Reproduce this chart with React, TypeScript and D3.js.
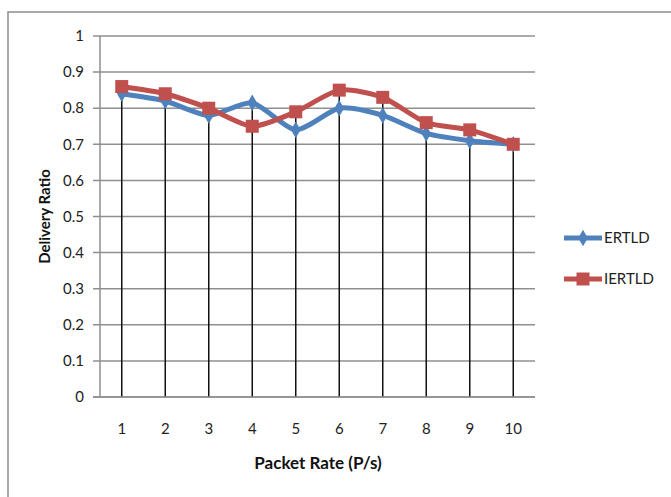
import { useEffect, useRef } from "react";
import * as d3 from "d3";

const categories = ["1", "2", "3", "4", "5", "6", "7", "8", "9", "10"];
const ertld = [0.84, 0.82, 0.78, 0.815, 0.74, 0.8, 0.78, 0.73, 0.71, 0.7];
const iertld = [0.86, 0.84, 0.8, 0.75, 0.79, 0.85, 0.83, 0.76, 0.74, 0.7];
const yTicks = [0, 0.1, 0.2, 0.3, 0.4, 0.5, 0.6, 0.7, 0.8, 0.9, 1];
const seriesNames = ["ERTLD", "IERTLD"];

const W = 671;
const H = 497;
const font = "Lato, 'Open Sans', sans-serif";

export default function App() {
  const svgRef = useRef<SVGSVGElement>(null);

  useEffect(() => {
    if (!svgRef.current) return;
    const svg = d3.select(svgRef.current);
    svg.selectAll("*").remove();

    const x = d3.scaleBand<string>().domain(categories).range([100, 535]);
    const y = d3.scaleLinear().domain([0, 1]).range([397, 36]);
    const cx = (c: string) => (x(c) ?? 0) + x.bandwidth() / 2;

    // outer frame
    svg.append("rect")
      .attr("x", 8).attr("y", 12)
      .attr("width", W + 10).attr("height", H + 10)
      .attr("fill", "white")
      .attr("stroke", "#8c8c8c").attr("stroke-width", 1.5);

    // gridlines + y labels
    const gy = svg.append("g");
    gy.selectAll("line")
      .data(yTicks)
      .join("line")
      .attr("x1", 93).attr("x2", 535)
      .attr("y1", (d) => y(d)).attr("y2", (d) => y(d))
      .attr("stroke", "#8f8f8f").attr("stroke-width", 1.5);
    gy.selectAll("text")
      .data(yTicks)
      .join("text")
      .attr("x", 84).attr("y", (d) => y(d))
      .attr("dy", "0.35em")
      .attr("text-anchor", "end")
      .attr("font-family", font).attr("font-size", 15)
      .attr("fill", "#222")
      .text((d) => (d === 0 || d === 1 ? d3.format("d")(d) : d3.format(".1f")(d)));

    // y axis line
    svg.append("line")
      .attr("x1", 100).attr("x2", 100)
      .attr("y1", y(1)).attr("y2", y(0))
      .attr("stroke", "#8f8f8f").attr("stroke-width", 1.5);

    // drop lines
    svg.append("g").selectAll("line")
      .data(categories)
      .join("line")
      .attr("x1", (d) => cx(d)).attr("x2", (d) => cx(d))
      .attr("y1", (d, i) => y(Math.max(ertld[i], iertld[i])))
      .attr("y2", y(0))
      .attr("stroke", "#111").attr("stroke-width", 1.5);

    // x labels
    svg.append("g").selectAll("text")
      .data(categories)
      .join("text")
      .attr("x", (d) => cx(d)).attr("y", 434)
      .attr("text-anchor", "middle")
      .attr("font-family", font).attr("font-size", 15)
      .attr("fill", "#222")
      .text((d) => d);

    const line = d3.line<number>()
      .x((_, i) => cx(categories[i]))
      .y((d) => y(d))
      .curve(d3.curveCardinal.tension(0.3));

    const colors = ["#4f81bd", "#c0504d"];
    const data = [ertld, iertld];

    data.forEach((vals, si) => {
      svg.append("path")
        .datum(vals)
        .attr("d", line)
        .attr("fill", "none")
        .attr("stroke", colors[si])
        .attr("stroke-width", 5)
        .attr("stroke-linejoin", "round");
    });

    // markers
    svg.append("g").selectAll("path")
      .data(ertld)
      .join("path")
      .attr("transform", (d, i) => `translate(${cx(categories[i])},${y(d)})`)
      .attr("d", d3.symbol(d3.symbolDiamond, 80)())
      .attr("fill", colors[0]);
    svg.append("g").selectAll("rect")
      .data(iertld)
      .join("rect")
      .attr("x", (d, i) => cx(categories[i]) - 6.5)
      .attr("y", (d) => y(d) - 6.5)
      .attr("width", 13).attr("height", 13)
      .attr("fill", colors[1]);

    // x axis line (on top)
    svg.append("line")
      .attr("x1", 93).attr("x2", 535)
      .attr("y1", y(0)).attr("y2", y(0))
      .attr("stroke", "#8f8f8f").attr("stroke-width", 1.5);

    // legend
    const leg = svg.append("g");
    seriesNames.forEach((name, i) => {
      const ly = 238 + i * 41;
      leg.append("line")
        .attr("x1", 564).attr("x2", 602)
        .attr("y1", ly).attr("y2", ly)
        .attr("stroke", colors[i]).attr("stroke-width", 5);
      if (i === 0) {
        leg.append("path")
          .attr("transform", `translate(583,${ly})`)
          .attr("d", d3.symbol(d3.symbolDiamond, 80)())
          .attr("fill", colors[i]);
      } else {
        leg.append("rect")
          .attr("x", 576.5).attr("y", ly - 6.5)
          .attr("width", 13).attr("height", 13)
          .attr("fill", colors[i]);
      }
      leg.append("text")
        .attr("x", 604).attr("y", ly)
        .attr("dy", "0.35em")
        .attr("font-family", font).attr("font-size", 15)
        .attr("fill", "#222")
        .text(name);
    });

    // axis titles
    svg.append("text")
      .attr("transform", `translate(50,${(y(0) + y(1)) / 2}) rotate(-90)`)
      .attr("text-anchor", "middle")
      .attr("font-family", font).attr("font-size", 15)
      .attr("font-weight", "bold")
      .attr("fill", "#111")
      .text("Delivery Ratio");
    svg.append("text")
      .attr("x", 318).attr("y", 469)
      .attr("text-anchor", "middle")
      .attr("font-family", font).attr("font-size", 17)
      .attr("font-weight", "bold")
      .attr("fill", "#111")
      .text("Packet Rate (P/s)");
  }, []);

  return (
    <svg
      ref={svgRef}
      width={W}
      height={H}
      style={{ position: "absolute", left: 0, top: 0, background: "white" }}
    />
  );
}
